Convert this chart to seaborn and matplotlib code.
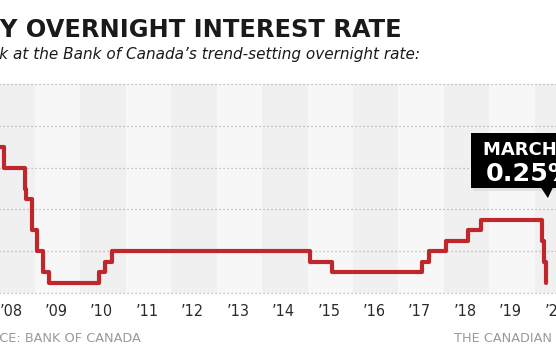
import numpy as np
import pandas as pd
import matplotlib.pyplot as plt
import seaborn as sns
from matplotlib.patches import Rectangle, Polygon

# -------------------------------
# Data: Bank of Canada overnight rate (decimal year, %)
# -------------------------------
change_dates = [2008.00, 2008.06, 2008.17, 2008.31, 2008.77, 2008.80, 2008.94,
                2009.05, 2009.17, 2009.30, 2010.42, 2010.55, 2010.69, 2015.06,
                2015.54, 2017.53, 2017.68, 2018.04, 2018.53, 2018.81, 2020.17,
                2020.20, 2020.24, 2020.26]
rates = [4.25, 4.00, 3.50, 3.00, 2.50, 2.25, 1.50,
         1.00, 0.50, 0.25, 0.50, 0.75, 1.00, 0.75,
         0.50, 0.75, 1.00, 1.25, 1.50, 1.75, 1.25,
         0.75, 0.25, 0.25]
years = list(range(2008, 2021))
year_labels = ["’08", "’09", "’10", "’11", "’12", "’13", "’14",
               "’15", "’16", "’17", "’18", "’19", "’20"]
grid_levels = [0, 1, 2, 3, 4, 5]

df = pd.DataFrame({"date": change_dates, "rate": rates})

# -------------------------------
# Figure
# -------------------------------
sns.set_style("white")
plt.rcParams["font.family"] = ["DejaVu Sans"]

W, H = 556, 350
fig = plt.figure(figsize=(W / 100, H / 100), dpi=100)
renderer = fig.canvas.get_renderer()


def size_for_width(s, target_px, **kw):
    # font size that makes string s about target_px wide
    t = fig.text(0, 0, s, fontsize=10, **kw)
    w = t.get_window_extent(renderer).width
    t.remove()
    return 10 * target_px / w


ax = fig.add_axes([0, 1 - 293 / H, 1, (293 - 84) / H])

x0 = 2008.23
px_per_year = 45.6
ax.set_xlim(x0, x0 + W / px_per_year)
ax.set_ylim(0, 5)

# alternating year bands
for i, yr in enumerate(years):
    col = "#f0f0f0" if i % 2 == 0 else "#f7f7f7"
    ax.fill_between([yr, yr + 1], 0, 5, color=col, lw=0, zorder=0)

# dotted gridlines
ax.hlines(grid_levels, x0 - 1, x0 + 20, colors="#b0b0b0", lw=0.9,
          linestyles=(0, (1, 2.2)), clip_on=False, zorder=1)

sns.lineplot(data=df, x="date", y="rate", ax=ax, color="#c0272d",
             lw=3.0, drawstyle="steps-post", zorder=3)

tick_size = size_for_width("’09", 23)
ax.set_xticks([y + 0.47 for y in years])
ax.set_xticklabels(year_labels, fontsize=tick_size, color="#2a2a2a")
ax.set_yticks([])
ax.tick_params(axis="x", length=0, pad=8)
ax.set_xlabel("")
ax.set_ylabel("")
for s in ax.spines.values():
    s.set_visible(False)

# callout box
xb = x0 + 473 / px_per_year
yb = (293 - 188) / 41.8
yt = (293 - 133) / 41.8
ax.add_patch(Rectangle((xb + 0.03, yb - 0.08), 3, yt - yb, color="#d6d6d6",
                       alpha=0.6, lw=0, zorder=4, clip_on=False))
ax.add_patch(Rectangle((xb, yb), 3, yt - yb, color="black", lw=0, zorder=5,
                       clip_on=False))
xp = x0 + 543 / px_per_year
ax.add_patch(Polygon([[xp, yb + 0.01], [xp + 12 / px_per_year, yb + 0.01],
                      [xp + 7 / px_per_year, yb - 10 / 41.8]],
                     closed=True, color="black", lw=0, zorder=5, clip_on=False))
s_month = size_for_width("MARCH", 74, fontweight="bold")
s_val = size_for_width("0.25", 63, fontweight="bold")
fig.text(483 / W, 1 - 150 / H, "MARCH 27", color="white", fontsize=s_month,
         fontweight="bold", va="center", ha="left")
fig.text(486 / W, 1 - 174 / H, "0.25%", color="white", fontsize=s_val,
         fontweight="bold", va="center", ha="left")

# titles and credits
s_title = size_for_width("Y OVERNIGHT INTEREST RATE", 402, fontweight="bold")
fig.text(402 / W, 1 - 30 / H, "CANADA’S KEY OVERNIGHT INTEREST RATE",
         fontsize=s_title, fontweight="bold", color="#1a1a1a", ha="right", va="center")
s_sub = size_for_width("k at the Bank of Canada’s trend-setting overnight rate:", 421,
                       fontstyle="italic")
fig.text(421 / W, 1 - 55 / H, "A look at the Bank of Canada’s trend-setting overnight rate:",
         fontsize=s_sub, fontstyle="italic", color="#1a1a1a", ha="right", va="center")
s_foot = size_for_width("THE CANADIAN", 98)
fig.text(141 / W, 1 - 338 / H, "SOURCE: BANK OF CANADA", fontsize=s_foot,
         color="#9a9a9a", ha="right", va="center")
fig.text(454 / W, 1 - 338 / H, "THE CANADIAN PRESS", fontsize=s_foot,
         color="#9a9a9a", ha="left", va="center")

fig.savefig("out.png", dpi=100)
